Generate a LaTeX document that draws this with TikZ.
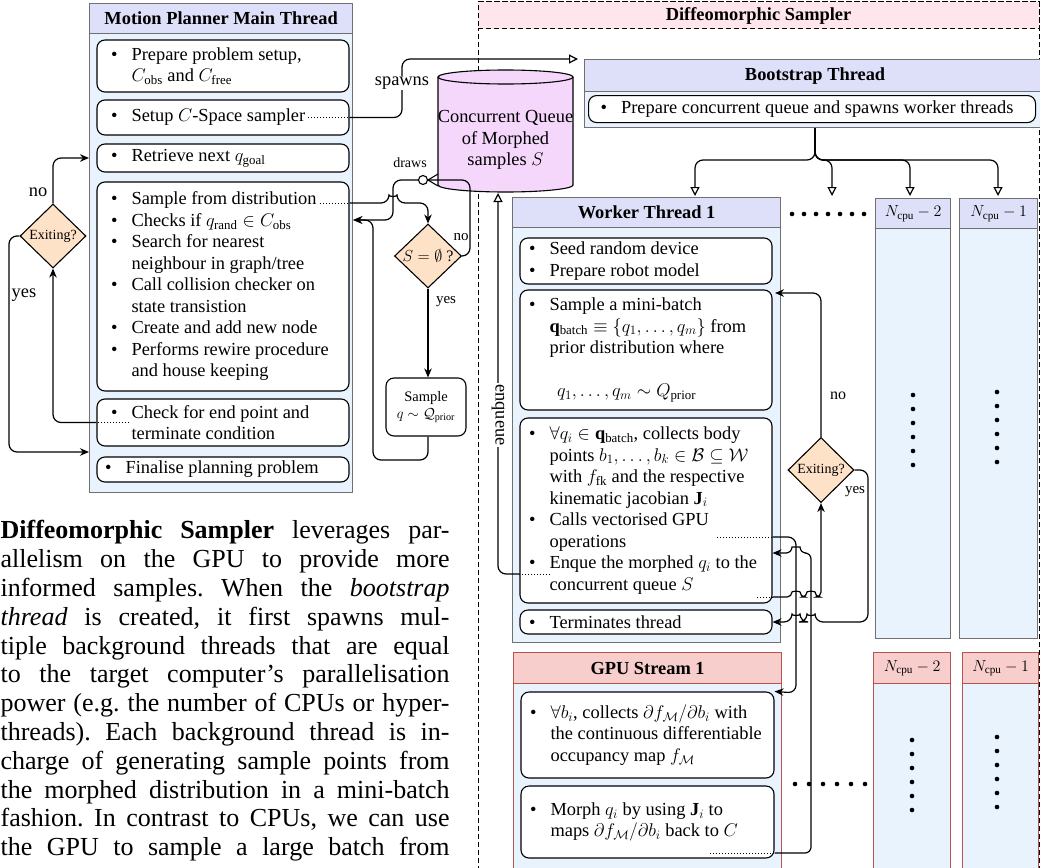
\documentclass[tikz,border=0pt]{standalone}
\usepackage{fix-cm}
\usepackage{amsmath}
\usepackage{fontspec}
\setmainfont{Liberation Serif}
\usepackage{tikz}
\usetikzlibrary{arrows.meta,shapes.geometric,positioning}

\definecolor{headfill}{RGB}{222,224,250}
\definecolor{bodyfill}{RGB}{233,243,254}
\definecolor{laneline}{RGB}{112,112,112}
\definecolor{gpuhdfill}{RGB}{248,206,204}
\definecolor{gpuline}{RGB}{184,84,80}
\definecolor{decfill}{RGB}{253,226,200}
\definecolor{queuefill}{RGB}{245,215,251}
\definecolor{bandfill}{RGB}{255,230,237}

\newcommand{\dfont}{\fontsize{18.4}{21.5}\selectfont}
\newcommand{\itm}{\makebox[20.5pt][l]{\textbullet}}
\newcommand{\itc}{\hspace*{20.5pt}}

\tikzstyle{block} = [draw, rectangle, rounded corners=8pt, fill=white, line width=1.1pt, minimum width=252pt, inner sep=0pt]
\tikzstyle{lane} = [draw=laneline, rectangle, fill=bodyfill, line width=1.2pt, inner sep=0pt, anchor=north west]
\tikzstyle{lanehd} = [lane, fill=headfill, font=\dfont\bfseries]
\tikzstyle{gpulane} = [lane, draw=gpuline]
\tikzstyle{gpuhd} = [gpulane, fill=gpuhdfill, font=\dfont\bfseries]
\tikzstyle{decision} = [diamond, draw, fill=decfill, line width=1.1pt, inner sep=0pt, font=\fontsize{14}{16}\selectfont]
\tikzstyle{txt} = [anchor=west, align=left, inner sep=0pt, font=\dfont]
\tikzstyle{lbl} = [fill=white, inner sep=1pt]
\tikzstyle{openarr} = [-{Triangle[open,length=9pt,width=9pt]}]

\begin{document}
\begin{tikzpicture}[x=1pt, y=-1pt, font=\dfont, line width=1.2pt, >={Stealth[length=9pt,width=7.5pt]}]
	\useasboundingbox (0,0) rectangle (1040,867);

	% motion planner main thread
	\node[lane, minimum width=263pt, minimum height=489pt] (MAIN_BODY) at (89,3) {};
	\node[lanehd, minimum width=263pt, minimum height=30pt] (MAIN_HEAD) at (89,3) {Motion Planner Main Thread};
	\node[block, minimum height=52pt] (PREP) at (223,66) {};
	\node[txt] (PREP_T) at ([xshift=14pt]PREP.west) {\itm Prepare problem setup,\\\itc $C_{\mathrm{obs}}$ and $C_{\mathrm{free}}$};
	\node[block, minimum height=35pt] (SETUP) at (223,117.5) {};
	\node[txt] (SETUP_T) at ([xshift=14pt]SETUP.west) {\itm Setup $C$-Space sampler};
	\node[block, minimum height=28pt] (RETR) at (223,158) {};
	\node[txt] (RETR_T) at ([xshift=14pt]RETR.west) {\itm Retrieve next $q_{\mathrm{goal}}$};
	\node[block, minimum height=209pt] (LOOP) at (223,286.5) {};
	\node[txt] (LOOP_T) at ([xshift=14pt]LOOP.west) {\itm Sample from distribution\\\itm Checks if $q_{\mathrm{rand}}\in C_{\mathrm{obs}}$\\\itm Search for nearest\\\itc neighbour in graph/tree\\\itm Call collision checker on\\\itc state transistion\\\itm Create and add new node\\\itm Performs rewire procedure\\\itc and house keeping};
	\node[block, minimum height=47pt] (CHK) at (223,422.5) {};
	\node[txt] (CHK_T) at ([xshift=14pt]CHK.west) {\itm Check for end point and\\\itc terminate condition};
	\node[block, minimum height=25pt] (FIN) at (223,469.5) {};
	\node[txt] (FIN_T) at ([xshift=8pt]FIN.west) {\itm Finalise planning problem};

	\node[decision, minimum width=66pt, minimum height=64pt] (EXIT_MAIN) at (53,236) {Exiting?};
	\draw[dotted, line width=1pt] ([xshift=33pt]CHK.west) -- (CHK.west);
	\draw[->, rounded corners=8pt] (CHK.west) -| (EXIT_MAIN.south);
	\draw[->, rounded corners=8pt] (EXIT_MAIN.north) |- (MAIN_BODY.west |- RETR.west);
	\draw[->, rounded corners=8pt] (EXIT_MAIN.west) -- (9,236) |- (MAIN_BODY.west |- 0,452);
	\node (NO_MAIN) at (38,192) {no};
	\node (YES_MAIN) at (24,295) {yes};

	% paragraph
	\node[anchor=north west, inner sep=0pt, align=left, font=\fontsize{26}{28.8}\selectfont\frenchspacing] (PARA) at (0,520) {%
		\makebox[449pt][s]{\textbf{Diffeomorphic Sampler} leverages par-}\\
		\makebox[449pt][s]{allelism on the GPU to provide more}\\
		\makebox[449pt][s]{informed samples. When the \textit{bootstrap}}\\
		\makebox[449pt][s]{\textit{thread} is created, it first spawns mul-}\\
		\makebox[449pt][s]{tiple background threads that are equal}\\
		\makebox[449pt][s]{to the target computer’s parallelisation}\\
		\makebox[449pt][s]{power (e.g. the number of CPUs or hyper-}\\
		\makebox[449pt][s]{threads). Each background thread is in-}\\
		\makebox[449pt][s]{charge of generating sample points from}\\
		\makebox[449pt][s]{the morphed distribution in a mini-batch}\\
		\makebox[449pt][s]{fashion. In contrast to CPUs, we can use}\\
		\makebox[449pt][s]{the GPU to sample a large batch from}};

	% diffeomorphic sampler
	\draw[dash pattern=on 5pt off 3pt, line width=1pt] (478,2) rectangle (1039,880);
	\node[draw, dash pattern=on 5pt off 3pt, line width=1pt, fill=bandfill, minimum width=561pt, minimum height=27pt, inner sep=0pt, font=\dfont\bfseries] (DS_HEAD) at (758.5,15.5) {Diffeomorphic Sampler};

	\filldraw[fill=queuefill, line width=1.1pt] (438,77) -- (438,185) arc[start angle=180, end angle=360, x radius=67.5pt, y radius=7pt] -- (573,77) arc[start angle=0, end angle=180, x radius=67.5pt, y radius=7pt] -- cycle;
	\draw[line width=1.1pt] (438,77) arc[start angle=180, end angle=360, x radius=67.5pt, y radius=7pt];
	\node[align=center] (QUEUE) at (505.5,140) {Concurrent Queue\\of Morphed\\samples $S$};

	\node[decision, minimum width=67pt, minimum height=64pt, font=\fontsize{16}{18}\selectfont] (S_EMPTY) at (428,256) {$S=\emptyset$ ?};
	\node[block, minimum width=80pt, minimum height=58pt, align=center, font=\fontsize{14.5}{17}\selectfont] (SAMPLE) at (426,407) {Sample\\$q\sim\mathcal{Q}_{\mathrm{prior}}$};

	\node[lane, minimum width=461pt, minimum height=68pt] (BS_BODY) at (584,59) {};
	\node[lanehd, minimum width=461pt, minimum height=32pt] (BS_HEAD) at (584,59) {Bootstrap Thread};
	\node[block, minimum width=447pt, minimum height=27pt, anchor=north west] (BS_PREP) at (588,95) {};
	\node[txt] (BS_PREP_T) at ([xshift=12pt]BS_PREP.west) {\itm Prepare concurrent queue and spawns worker threads};

	% worker threads
	\node[lane, minimum width=268pt, minimum height=445pt] (W1_BODY) at (512,197) {};
	\node[lanehd, minimum width=268pt, minimum height=30pt] (W1_HEAD) at (512,197) {Worker Thread 1};
	\node[block, minimum height=46pt] (WB1) at (646,261) {};
	\node[txt] (WB1_T) at ([xshift=9pt]WB1.west) {\itm Seed random device\\\itm Prepare robot model};
	\node[block, minimum height=120pt] (WB2) at (646,350) {};
	\node[txt] (WB2_T) at ([xshift=9pt]WB2.west) {\itm Sample a mini-batch\\\itc $\mathbf{q}_{\mathrm{batch}}\equiv\{q_1,\ldots,q_m\}$ from\\\itc prior distribution where\\[21.5pt]\hspace*{28pt}$q_1,\ldots,q_m\sim Q_{\mathrm{prior}}$};
	\node[block, minimum height=185pt] (WB3) at (646,510.5) {};
	\node[txt] (WB3_T) at ([xshift=9pt]WB3.west) {\itm $\forall q_i\in\mathbf{q}_{\mathrm{batch}}$, collects body\\\itc points $b_1,\ldots,b_k\in\mathcal{B}\subseteq\mathcal{W}$\\\itc with $f_{\mathrm{fk}}$ and the respective\\\itc kinematic jacobian $\mathbf{J}_i$\\\itm Calls vectorised GPU\\\itc operations\\\itm Enque the morphed $q_i$ to the\\\itc concurrent queue $S$};
	\node[block, minimum height=24pt] (WB4) at (646,622) {};
	\node[txt] (WB4_T) at ([xshift=9pt]WB4.west) {\itm Terminates thread};

	\node[lane, minimum width=75pt, minimum height=440pt] (W2_BODY) at (875,198) {};
	\node[lanehd, minimum width=75pt, minimum height=30pt, font=\fontsize{16}{19}\selectfont] (W2_HEAD) at (875,198) {$N_{\mathrm{cpu}}-2$};
	\node[lane, minimum width=78pt, minimum height=440pt] (W3_BODY) at (959,198) {};
	\node[lanehd, minimum width=78pt, minimum height=30pt, font=\fontsize{16}{19}\selectfont] (W3_HEAD) at (959,198) {$N_{\mathrm{cpu}}-1$};

	% gpu streams
	\node[gpulane, minimum width=268pt, minimum height=220pt] (G1_BODY) at (513,652) {};
	\node[gpuhd, minimum width=268pt, minimum height=31pt] (G1_HEAD) at (513,652) {GPU Stream 1};
	\node[block, minimum width=253pt, minimum height=86pt] (GB1) at (647.5,735) {};
	\node[txt] (GB1_T) at ([xshift=9pt]GB1.west) {\itm $\forall b_i$, collects $\partial f_{\mathcal{M}}/\partial b_i$ with\\\itc the continuous differentiable\\\itc occupancy map $f_{\mathcal{M}}$};
	\node[block, minimum width=253pt, minimum height=72pt] (GB2) at (647.5,822) {};
	\node[txt] (GB2_T) at ([xshift=9pt]GB2.west) {\itm Morph $q_i$ by using $\mathbf{J}_i$ to\\\itc maps $\partial f_{\mathcal{M}}/\partial b_i$ back to $C$};

	\node[gpulane, minimum width=77pt, minimum height=220pt] (G2_BODY) at (873,652) {};
	\node[gpuhd, minimum width=77pt, minimum height=31pt, font=\fontsize{16}{19}\selectfont] (G2_HEAD) at (873,652) {$N_{\mathrm{cpu}}-2$};
	\node[gpulane, minimum width=76pt, minimum height=220pt] (G3_BODY) at (962,652) {};
	\node[gpuhd, minimum width=76pt, minimum height=31pt, font=\fontsize{16}{19}\selectfont] (G3_HEAD) at (962,652) {$N_{\mathrm{cpu}}-1$};

	\foreach \k in {0,...,5} {
		\fill (913,395+14*\k) circle[radius=2.3pt];
		\fill (997,392+14*\k) circle[radius=2.3pt];
		\fill (912,740+14*\k) circle[radius=2.3pt];
		\fill (997,737+14*\k) circle[radius=2.3pt];
		\fill (795+14*\k,784) circle[radius=2.3pt];
	}
	\foreach \k in {0,...,6}
		\fill (792+12*\k,214) circle[radius=2.3pt];

	% main thread <-> sampler
	\draw[dotted, line width=1pt] (308,117.5) -- (SETUP.east);
	\draw[openarr, rounded corners=8pt] (SETUP.east) -- (402,117.5) |- ([xshift=-6pt]BS_HEAD.north west);
	\node[lbl] (SPAWNS) at (402,83) {spawns};

	\draw[dotted, line width=1pt] (320,203) -- (LOOP.east |- 0,203);
	\draw[->, rounded corners=8pt] (LOOP.east |- 0,203) -- (389,203) .. controls +(0,-6) and +(0,-6) .. (397,203) -- (428,203) -- (S_EMPTY.north);
	\draw[->, rounded corners=8pt] (S_EMPTY.east) -- (470,256) -- (470,180) -- (393,180) -- (393,220) -- (MAIN_BODY.east |- 0,220);
	\draw[line width=1.1pt] (428,180) -- (438,174) (428,180) -- (438,186);
	\node[circle, draw, fill=white, inner sep=0pt, minimum size=9pt, line width=1.1pt] (DRAW_MARK) at (423,180) {};
	\node[font=\fontsize{14}{16}\selectfont] (DRAWS) at (410,163) {draws};
	\node[font=\fontsize{15}{17}\selectfont] (NO_S) at (461,237) {no};
	\draw[->] (S_EMPTY.south) -- (S_EMPTY.south |- SAMPLE.north);
	\node[font=\fontsize{15}{17}\selectfont] (YES_S) at (446,302) {yes};
	\draw[->, rounded corners=8pt] (SAMPLE.south -| S_EMPTY.south) -- (428,460) -- (373,460) -- (373,220) -- (MAIN_BODY.east |- 0,220);

	% bootstrap spawns workers
	\foreach \x in {695,832,910,998}
		\draw[openarr, rounded corners=8pt] (BS_BODY.south -| 815,0) |- (\x,160) -- (\x,196);

	% worker thread connectors
	\draw[dotted, line width=1pt] (550,574) -- (WB3.west |- 0,574);
	\draw[openarr, rounded corners=8pt] (WB3.west |- 0,574) -- (498,574) -- (498,193);
	\node[lbl, rotate=-90] (ENQ) at (498,415) {enqueue};

	\node[decision, minimum width=66pt, minimum height=65pt] (EXIT_W) at (821,470) {Exiting?};
	\draw[->, rounded corners=8pt] (EXIT_W.north) |- (775,293);
	\node[font=\fontsize{16}{18}\selectfont] (NO_W) at (838,396) {no};
	\draw[->, rounded corners=8pt] (EXIT_W.east) -- (868,470) -- (868,622) -- (815,622) .. controls +(0,-6) and +(0,-6) .. (807,622) -- (800,622) .. controls +(0,-6) and +(0,-6) .. (792,622) -- (WB4.east);
	\node[font=\fontsize{15}{17}\selectfont] (YES_W) at (855,492) {yes};

	\draw[dotted, line width=1pt] (757,597) -- (WB3.east |- 0,597);
	\draw[->, rounded corners=5pt] (WB3.east |- 0,597) -- (792,597) .. controls +(0,-6) and +(0,-6) .. (800,597) -- (807,597) .. controls +(0,-6) and +(0,-6) .. (815,597) -- (821,597) -- (EXIT_W.south);

	\draw[dotted, line width=1pt] (717,537) -- (WB3.east |- 0,537);
	\draw[->, rounded corners=8pt] (WB3.east |- 0,537) -- (796,537) -- (796,693) -- (GB1.north east);
	\draw[dotted, line width=1pt] (710,853) -- (GB2.east |- 0,853);
	\draw[->, rounded corners=6pt] (GB2.east |- 0,853) -- (811,853) -- (811,553) -- (800,553) .. controls +(0,-6) and +(0,-6) .. (792,553) -- (WB3.east |- 0,553);
\end{tikzpicture}
\end{document}
